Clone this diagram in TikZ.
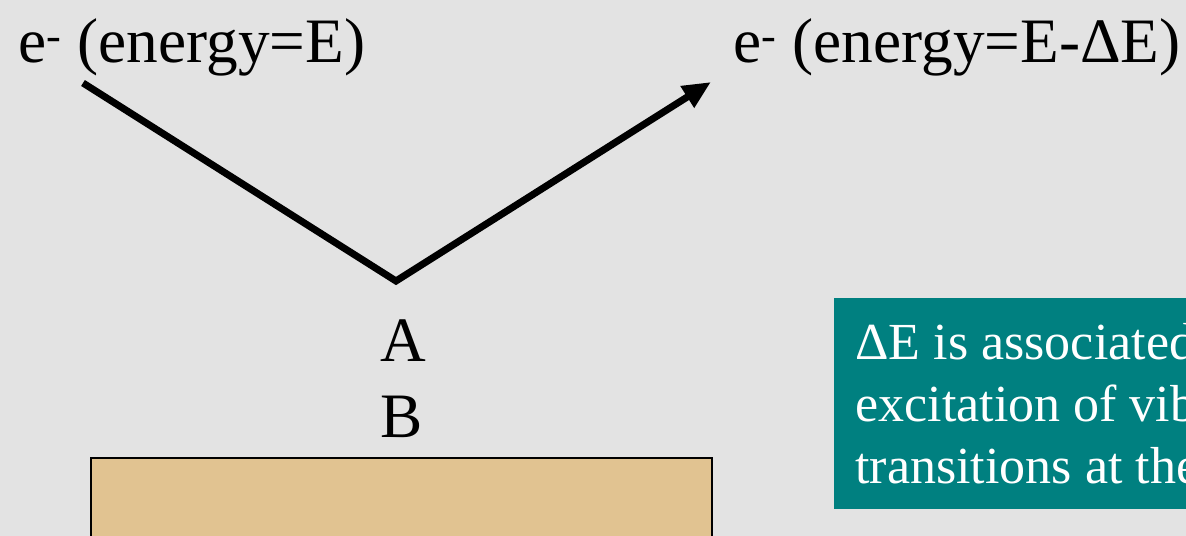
\documentclass[tikz,border=0pt]{standalone}
\usepackage{fontspec}
\setmainfont{Liberation Serif}
\usetikzlibrary{arrows.meta,positioning}
\definecolor{granite}{RGB}{227,227,227}
\definecolor{surface}{RGB}{225,195,145}
\definecolor{note}{RGB}{0,128,128}

\begin{document}
\begin{tikzpicture}[x=0.025cm, y=-0.025cm,
  lbl/.style={font=\fontsize{45}{50}\selectfont, inner sep=0pt},
  beam/.style={line width=5pt, -{Triangle[length=20pt,width=17pt]}},
  slab/.style={draw, line width=1pt, fill=surface},
  notebox/.style={fill=note, text=white, font=\fontsize{37}{44}\selectfont, align=left,
    inner xsep=15pt, inner ysep=0pt, minimum height=150pt, anchor=north west}
]
\useasboundingbox (0,0) rectangle (1186,536);
\fill[granite] (0,0) rectangle (1186,536);
\clip (0,0) rectangle (1186,536);

% incoming and scattered electron
\node[lbl, anchor=base west] (ein) at (18,63) {e\textsuperscript{-} (energy=E)};
\node[lbl, anchor=base west] (eout) at (733,63) {e\textsuperscript{-} (energy=E-ΔE)};

\coordinate (src) at (83,83);
\coordinate (hit) at (396,281);
\coordinate (dst) at (711,82);
\draw[beam] (src) -- (hit) -- (dst);

% adsorbate on the surface
\node[lbl, anchor=base] (atA) at (403,362) {A};
\node[lbl, anchor=base] (atB) at (402,438) {B};
\draw[slab] (91,458) rectangle (712,560);

\node[notebox] (note) at (834,298) {ΔE is associated\\excitation of vib\\transitions at the};

\end{tikzpicture}
\end{document}
